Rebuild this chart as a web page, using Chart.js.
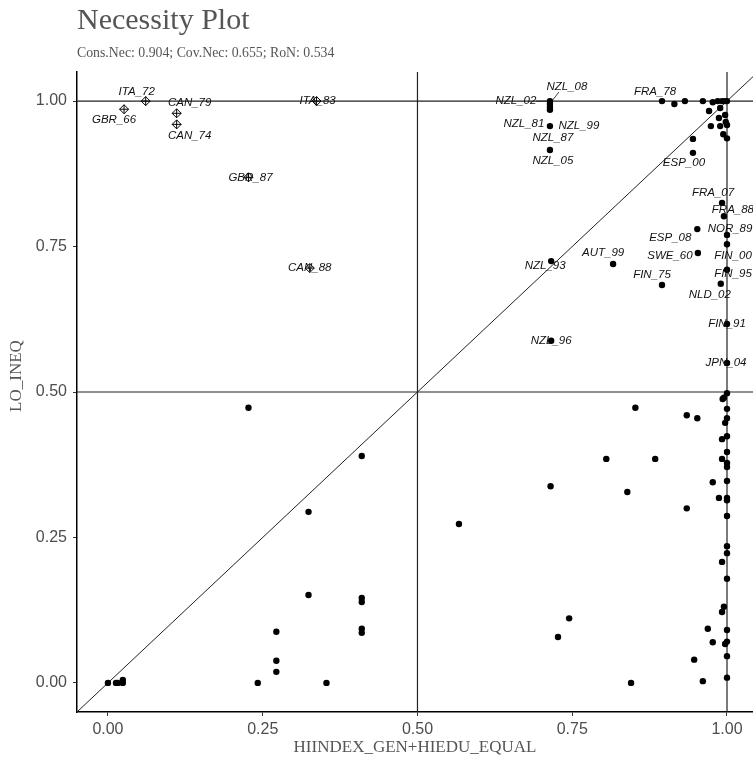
<!DOCTYPE html>
<html>
<head>
<meta charset="utf-8">
<script src="https://cdn.jsdelivr.net/npm/chart.js@4.4.1/dist/chart.umd.min.js"></script>
<style>
  html, body { margin: 0; padding: 0; background: #fff; }
  #wrap { width: 753px; height: 761px; }
</style>
</head>
<body>
<div id="wrap"><canvas id="necChart" width="753" height="761"></canvas></div>
<script>
// Deviant cases in the upper left, drawn as crossed diamonds
const devNames = ['ITA_72', 'GBR_66', 'CAN_79', 'CAN_74', 'ITA_83', 'GBR_87', 'CAN_88'];
const devX = [0.061, 0.026, 0.111, 0.111, 0.337, 0.227, 0.326];
const devY = [1.0, 0.986, 0.979, 0.960, 1.0, 0.869, 0.713];

// Labelled cases
const caseNames = ['NZL_02', 'NZL_08', 'NZL_81', 'NZL_99', 'NZL_87', 'NZL_05', 'FRA_78', 'ESP_00',
    'FRA_07', 'FRA_88', 'ESP_08', 'NOR_89', 'FIN_00', 'SWE_60', 'NZL_93', 'AUT_99', 'FIN_95',
    'NLD_02', 'FIN_75', 'FIN_91', 'NZL_96', 'JPN_04'];
const caseX = [0.714, 0.714, 0.714, 0.714, 0.714, 0.714, 0.895, 0.945,
    0.992, 0.995, 0.952, 1.0, 1.0, 0.953, 0.716, 0.816, 1.0,
    0.990, 0.895, 1.0, 0.716, 1.0];
const caseY = [1.0, 0.995, 0.990, 0.985, 0.957, 0.916, 1.0, 0.911,
    0.825, 0.802, 0.780, 0.770, 0.754, 0.739, 0.725, 0.720, 0.710,
    0.686, 0.684, 0.617, 0.588, 0.550];

// Remaining cases without labels
const otherX = [0.915, 0.932, 0.961, 0.977, 0.985, 0.992, 0.997, 1.0, 0.971, 0.989, 0.987, 0.974,
    0.989, 0.997, 0.998, 1.0, 0.994, 1.0, 0.945,
    0.227, 0.410, 0.324, 0.567, 0.715, 0.324, 0.410, 0.410, 0.410, 0.410, 0.272, 0.272, 0.272,
    0.242, 0.353, 0.727, 0.0, 0.013, 0.016, 0.024, 0.024, 0.745, 0.845, 0.947, 0.961, 0.969,
    0.977, 0.992, 0.995, 0.992, 1.0, 1.0, 1.0, 1.0, 1.0, 0.997, 1.0, 1.0,
    0.852, 0.935, 0.952, 0.805, 0.884, 0.839, 0.935, 0.977, 0.987,
    1.0, 0.993, 0.995, 1.0, 1.0, 0.997, 1.0, 0.992, 1.0, 0.992, 1.0, 1.0, 1.0, 1.0, 1.0, 1.0];
const otherY = [0.995, 1.0, 1.0, 0.998, 1.0, 1.0, 1.0, 1.0, 0.983, 0.988, 0.971, 0.957,
    0.957, 0.976, 0.964, 0.959, 0.943, 0.936, 0.935,
    0.473, 0.390, 0.294, 0.273, 0.338, 0.151, 0.146, 0.139, 0.093, 0.086, 0.088, 0.038, 0.019,
    0.0, 0.0, 0.079, 0.0, 0.0, 0.0, 0.0, 0.005, 0.111, 0.0, 0.040, 0.003, 0.093,
    0.070, 0.122, 0.131, 0.208, 0.235, 0.223, 0.179, 0.091, 0.071, 0.067, 0.046, 0.009,
    0.473, 0.460, 0.455, 0.385, 0.385, 0.328, 0.300, 0.345, 0.318,
    0.498, 0.488, 0.490, 0.471, 0.455, 0.447, 0.424, 0.419, 0.397, 0.385, 0.378, 0.371, 0.347, 0.318, 0.314, 0.287];

// Axis ticks and reference lines
const tickVals = [0, 0.25, 0.5, 0.75, 1];
const refLevels = [0.5, 1];

const titleText = 'Necessity Plot';
const subtitleText = 'Cons.Nec: 0.904; Cov.Nec: 0.655; RoN: 0.534';
const yTitleText = 'LO_INEQ';

const zip = (xs, ys) => xs.map((x, i) => ({ x: x, y: ys[i] }));

// label offsets in px from the point (center of the text)
const labelShift = {
    ITA_72: [-9, -9], GBR_66: [-10, 11], CAN_79: [13, -11], CAN_74: [13, 11],
    ITA_83: [1, 0], GBR_87: [2, 0], CAN_88: [0, 0],
    NZL_02: [-34, 0], NZL_08: [17, -17], NZL_81: [-26, 17], NZL_99: [29, 16],
    NZL_87: [3, 12], NZL_05: [3, 11], FRA_78: [-7, -9], ESP_00: [-9, 10],
    FRA_07: [-9, -10], FRA_88: [9, -6], ESP_08: [-27, 9], NOR_89: [3, -6],
    FIN_00: [6, 12], SWE_60: [-28, 3], NZL_93: [-6, 5], AUT_99: [-10, -11],
    FIN_95: [6, 4], NLD_02: [-11, 11], FIN_75: [-10, -10], FIN_91: [0, 0],
    NZL_96: [0, 0], JPN_04: [-1, 0]
};
const withSegment = { NZL_02: true, NZL_08: true };

const caseLabels = {
    id: 'caseLabels',
    afterDatasetsDraw(chart) {
        const ctx = chart.ctx;
        ctx.save();
        ctx.font = 'italic 11.5px "Liberation Sans", Arial, sans-serif';
        ctx.textAlign = 'center';
        ctx.textBaseline = 'middle';
        chart.data.datasets.forEach((ds, di) => {
            if (!ds.names) return;
            const meta = chart.getDatasetMeta(di);
            meta.data.forEach((pt, i) => {
                const name = ds.names[i];
                const off = labelShift[name] || [0, 0];
                const tx = pt.x + off[0], ty = pt.y + off[1];
                if (withSegment[name]) {
                    ctx.strokeStyle = '#111';
                    ctx.lineWidth = 0.8;
                    ctx.beginPath();
                    if (name === 'NZL_02') {
                        ctx.moveTo(tx + 20, ty);
                        ctx.lineTo(pt.x - 3, pt.y);
                    } else {
                        ctx.moveTo(tx - 8, ty + 5);
                        ctx.lineTo(pt.x + 2, pt.y - 3);
                    }
                    ctx.stroke();
                }
                ctx.fillStyle = '#111';
                ctx.fillText(name, tx, ty);
            });
        });
        ctx.restore();
    }
};

const titleBlock = {
    id: 'titleBlock',
    afterDraw(chart) {
        const ctx = chart.ctx;
        const area = chart.chartArea;
        ctx.save();
        ctx.textAlign = 'left';
        ctx.textBaseline = 'alphabetic';
        ctx.fillStyle = '#555';
        ctx.font = '30px "Liberation Serif", "Times New Roman", serif';
        ctx.fillText(titleText, area.left, 29);
        ctx.font = '13.8px "Liberation Serif", "Times New Roman", serif';
        ctx.fillText(subtitleText, area.left, 57);
        // y axis title
        ctx.translate(17, 376);
        ctx.rotate(-Math.PI / 2);
        ctx.textAlign = 'center';
        ctx.textBaseline = 'middle';
        ctx.font = '17px "Liberation Serif", "Times New Roman", serif';
        ctx.fillText(yTitleText, 0, 0);
        ctx.restore();
    }
};

const refStyle = { type: 'line', borderColor: '#222', borderWidth: 1.2, pointRadius: 0, fill: false, order: 3 };
const refSets = [];
refLevels.forEach(v => {
    refSets.push(Object.assign({ data: [{ x: -1, y: v }, { x: 2, y: v }] }, refStyle));
    refSets.push(Object.assign({ data: [{ x: v, y: -1 }, { x: v, y: 2 }] }, refStyle));
});
refSets.push(Object.assign({}, refStyle, { data: [{ x: -1, y: -1 }, { x: 2, y: 2 }], borderWidth: 1 }));

const fixTicks = scale => { scale.ticks = tickVals.map(v => ({ value: v })); };

new Chart(document.getElementById('necChart'), {
    type: 'scatter',
    data: {
        datasets: [
            {
                data: zip(otherX, otherY),
                pointRadius: 3.2, backgroundColor: '#000', borderColor: '#000', borderWidth: 0, order: 1
            },
            {
                data: zip(caseX, caseY), names: caseNames,
                pointRadius: 3.2, backgroundColor: '#000', borderColor: '#000', borderWidth: 0, order: 1
            },
            {
                data: zip(devX, devY), names: devNames,
                pointStyle: 'rectRot', pointRadius: 4.5, backgroundColor: 'rgba(0,0,0,0)',
                borderColor: '#000', borderWidth: 1, order: 1
            },
            {
                data: zip(devX, devY),
                pointStyle: 'cross', pointRadius: 4.5, borderColor: '#000', borderWidth: 1, order: 1
            }
        ].concat(refSets)
    },
    options: {
        responsive: false,
        animation: false,
        events: [],
        layout: { autoPadding: false, padding: { top: 72, right: 0, left: 0, bottom: 0 } },
        plugins: {
            legend: { display: false },
            tooltip: { enabled: false }
        },
        scales: {
            x: {
                type: 'linear',
                min: -0.05,
                max: 1.042,
                afterBuildTicks: fixTicks,
                afterFit: s => { s.height = 49; s.paddingLeft = 0; s.paddingRight = 0; },
                border: { display: true, color: '#000', width: 1.5 },
                grid: { drawOnChartArea: false, drawTicks: true, tickLength: 4, tickColor: '#333' },
                ticks: {
                    padding: 4,
                    color: '#4d4d4d',
                    font: { family: '"Liberation Sans", Arial, sans-serif', size: 16 },
                    callback: v => v.toFixed(2)
                },
                title: {
                    display: true,
                    text: 'HIINDEX_GEN+HIEDU_EQUAL',
                    color: '#555',
                    font: { family: '"Liberation Serif", "Times New Roman", serif', size: 17 },
                    padding: { top: 0, bottom: 3 }
                }
            },
            y: {
                type: 'linear',
                min: -0.05,
                max: 1.05,
                afterBuildTicks: fixTicks,
                afterFit: s => { s.width = 77; s.paddingTop = 0; s.paddingBottom = 0; },
                border: { display: true, color: '#000', width: 1.5 },
                grid: { drawOnChartArea: false, drawTicks: true, tickLength: 4, tickColor: '#333' },
                ticks: {
                    padding: 6,
                    color: '#4d4d4d',
                    font: { family: '"Liberation Sans", Arial, sans-serif', size: 16 },
                    callback: v => v.toFixed(2)
                },
                title: { display: false }
            }
        }
    },
    plugins: [caseLabels, titleBlock]
});
</script>
</body>
</html>
